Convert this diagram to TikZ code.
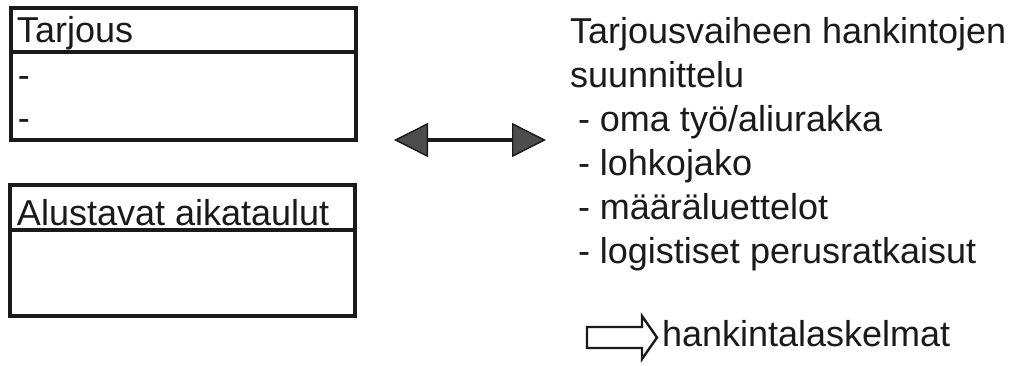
\documentclass[tikz,border=0pt]{standalone}
\usepackage{fontspec}
\setmainfont{Liberation Sans}
\usepackage{tikz}
\definecolor{inkBlack}{HTML}{1A1A1A}
\definecolor{inkGray}{HTML}{4D4D4D}
\usetikzlibrary{arrows.meta}

\begin{document}
\begin{tikzpicture}[x=0.5pt, y=-0.5pt,
  every node/.style={inner sep=0pt, outer sep=0pt, text=inkBlack, font=\fontsize{18}{22}\selectfont},
  txt/.style={anchor=base west},
  frame/.style={draw=inkBlack, line width=1.7pt},
  swaparrow/.style={draw=inkBlack, line width=2.4pt,
    {Triangle[length=17pt, width=17pt, fill=inkGray, line width=0.7pt]}-{Triangle[length=17pt, width=17pt, fill=inkGray, line width=0.7pt]}},
  blockarrow/.style={draw=inkBlack, line width=1.2pt, line join=miter, fill=white}]

  \fill[white] (0,0) rectangle (1012,365);
  \useasboundingbox (0,0) rectangle (1012,365);

  \draw[frame] (11,8) rectangle (356,140);
  \draw[frame] (11,52) -- (356,52);
  \draw[frame] (10,185) rectangle (355,316);
  \draw[frame] (10,230) -- (355,230);

  \node[txt] (tarjousHead) at (17,42) {Tarjous};
  \node[txt] (tarjousDashA) at (18,87) {-};
  \node[txt] (tarjousDashB) at (18,130) {-};
  \node[txt] (aikatauluHead) at (17,225) {Alustavat aikataulut};

  \coordinate (swapL) at (394,140);
  \coordinate (swapR) at (546,140);
  \draw[swaparrow] (swapL) -- (swapR);

  \node[txt] (suunnA) at (570,43) {Tarjousvaiheen hankintojen};
  \node[txt] (suunnB) at (570,87) {suunnittelu};
  \node[txt] (suunnC) at (578,131) {- oma työ/aliurakka};
  \node[txt] (suunnD) at (578,175) {- lohkojako};
  \node[txt] (suunnE) at (578,219) {- määräluettelot};
  \node[txt] (suunnF) at (578,263) {- logistiset perusratkaisut};

  \draw[blockarrow] (587,327) -- (642,327) -- (642,316) -- (657,337.5) -- (642,359) -- (642,348) -- (587,348) -- cycle;
  \node[txt] (laskelmat) at (662,346) {hankintalaskelmat};
\end{tikzpicture}
\end{document}
